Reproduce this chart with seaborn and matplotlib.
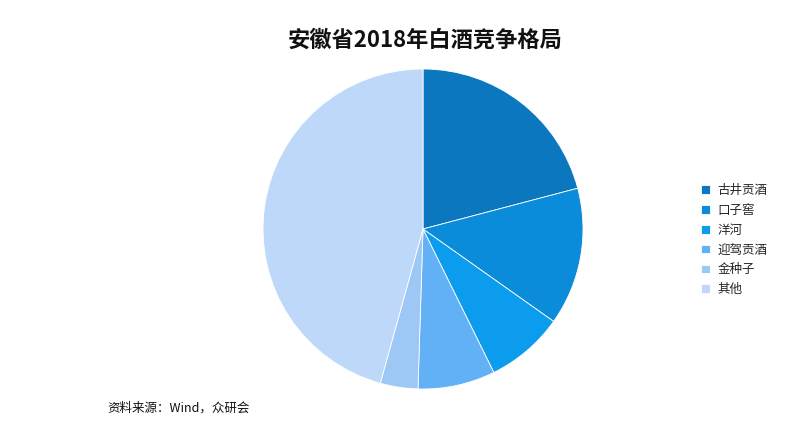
import matplotlib
matplotlib.use("Agg")
import matplotlib.pyplot as plt
import seaborn as sns

categories = ["古井贡酒", "口子窖", "洋河", "迎驾贡酒", "金种子", "其他"]
shares = [20.9, 13.9, 7.9, 7.8, 3.8, 45.7]
colors = ["#0a77bf", "#0a8cdb", "#0b9cee", "#62b1f6", "#9dc7f4", "#bdd8f8"]

sns.set_theme(style="white")
plt.rcParams['font.family'] = ['Noto Sans CJK SC', 'DejaVu Sans']

fig = plt.figure(figsize=(8, 4.37), dpi=100)
ax = fig.add_axes([263/800, (437-389)/437, 320/800, 320/437])
wedges, _ = ax.pie(shares, colors=colors, startangle=90, counterclock=False,
                   wedgeprops=dict(linewidth=0.6, edgecolor="white"))
ax.set_xlim(-1, 1)
ax.set_ylim(-1, 1)
ax.set_aspect("equal")
ax.axis("off")

fig.text(425/800, 1 - 40/437, "安徽省2018年白酒竞争格局", ha="center", va="center",
         fontsize=16, fontweight="bold", color="#111111")
fig.text(107/800, 1 - 408/437, "资料来源：Wind，众研会", ha="left", va="center",
         fontsize=9, color="#111111")

leg = fig.legend(wedges, categories, loc="center left",
                 bbox_to_anchor=(690/800, 1 - 240/437), frameon=False,
                 fontsize=9, handlelength=0.7, handleheight=0.7,
                 handletextpad=0.6, labelspacing=0.55)

fig.savefig("out.png", dpi=100)
